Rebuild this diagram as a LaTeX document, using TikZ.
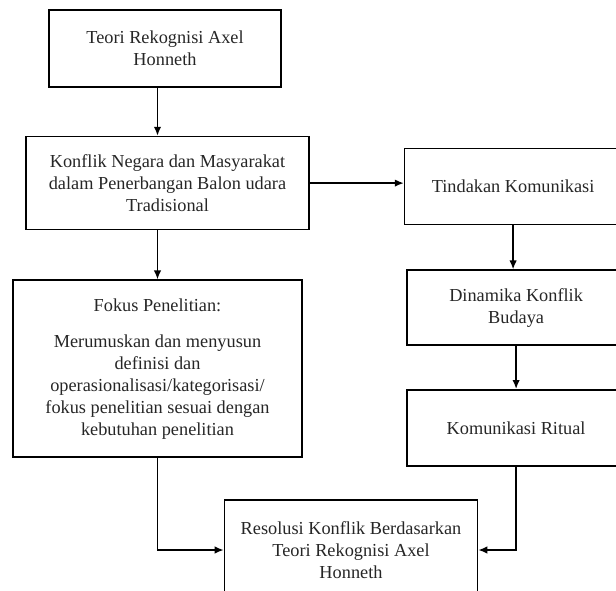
\documentclass[tikz,border=0pt]{standalone}
\usepackage{fontspec}
\setmainfont{Liberation Serif}
\usetikzlibrary{arrows.meta,positioning}

\begin{document}
\begin{tikzpicture}[x=1pt, y=-1pt, line width=1.6pt, >={Latex[length=9pt,width=7.5pt]},
    box/.style={draw, align=center, inner sep=0pt, text=black!85, font=\fontsize{18.3}{22}\selectfont}]
    \useasboundingbox (0,0) rectangle (616,590);
    \clip (0,0) rectangle (616,590);
    \node[box, minimum width=232pt, minimum height=77pt] (teori) at (165,48.5) {Teori Rekognisi Axel\\Honneth};
    \node[box, minimum width=283pt, minimum height=93pt] (konflik) [below=48pt of teori, xshift=2.5pt] {Konflik Negara dan Masyarakat\\dalam Penerbangan Balon udara\\Tradisional};
    \node[box, minimum width=217pt, minimum height=76pt] (tindakan) [right=94pt of konflik, yshift=-3.5pt] {Tindakan Komunikasi};
    \node[box, minimum width=218pt, minimum height=75pt] (dinamika) [below=44pt of tindakan, xshift=3pt] {Dinamika Konflik\\Budaya};
    \node[box, minimum width=218pt, minimum height=76pt] (ritual) [below=43pt of dinamika] {Komunikasi Ritual};
    \node[box, minimum width=289pt, minimum height=177pt] (fokus) [below=49pt of konflik, xshift=-10pt] {Fokus Penelitian:\\[14pt]Merumuskan dan menyusun\\definisi dan\\operasionalisasi/kategorisasi/\\fokus penelitian sesuai dengan\\kebutuhan penelitian};
    \node[box, minimum width=253pt, minimum height=100pt] (resolusi) at (351,550) {Resolusi Konflik Berdasarkan\\Teori Rekognisi Axel\\Honneth};
    \path[->]
    (teori.south -| fokus) edge (konflik.north -| fokus)
    (konflik.south -| fokus) edge (fokus)
    (konflik.east) edge (konflik.east -| tindakan.west)
    (tindakan) edge (tindakan |- dinamika.north)
    (dinamika) edge (dinamika |- ritual.north);
    \draw[->] (fokus) |- (resolusi);
    \draw[->] (ritual) |- (resolusi);
\end{tikzpicture}
\end{document}
